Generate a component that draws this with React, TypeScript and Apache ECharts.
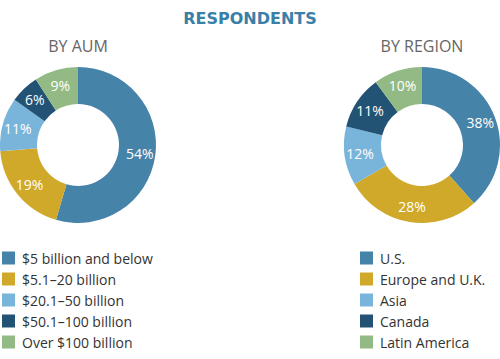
import React, { useEffect, useRef } from "react";
import * as echarts from "echarts";

const aumCategories = ["$5 billion and below", "$5.1–20 billion", "$20.1–50 billion", "$50.1–100 billion", "Over $100 billion"];
const aumValues = [54, 19, 11, 6, 9];
const regionCategories = ["U.S.", "Europe and U.K.", "Asia", "Canada", "Latin America"];
const regionValues = [38, 28, 12, 11, 10];
const colors = ["#4683a9", "#d0a92a", "#79b5db", "#235374", "#93ba84"];

const FONT = "'Open Sans', Lato, sans-serif";

export default function App() {
  const ref = useRef<HTMLDivElement>(null);
  useEffect(() => {
    const chart = echarts.init(ref.current!, null, { renderer: "svg" });
    const pieBase = {
      type: "pie",
      radius: [41, 78],
      startAngle: 90,
      clockwise: true,
      avoidLabelOverlap: false,
      label: {
        show: true,
        position: "inside",
        formatter: "{c}%",
        color: "#ffffff",
        fontSize: 14,
        fontFamily: FONT,
      },
      labelLine: { show: false },
      itemStyle: { borderWidth: 0 },
      emphasis: { disabled: true },
    };
    const legendBase = {
      orient: "vertical",
      top: 251,
      height: 110,
      padding: 0,
      itemWidth: 13,
      itemHeight: 13,
      itemGap: 7,
      icon: "rect",
      textStyle: { fontSize: 14, lineHeight: 13, color: "#333", fontFamily: FONT, padding: [0, 0, 0, 2] },
      selectedMode: false,
    };
    chart.setOption({
      animation: false,
      color: colors,
      graphic: [
        { type: "text", x: 250, y: 10, style: { text: "RESPONDENTS", fill: "#3a7fa8", font: `bold 16px 'DejaVu Sans', sans-serif`, textAlign: "center", textVerticalAlign: "top" } },
        { type: "text", x: 78, y: 38, style: { text: "BY AUM", fill: "#666666", font: `16px ${FONT}`, textAlign: "center", textVerticalAlign: "top" } },
        { type: "text", x: 422, y: 38, style: { text: "BY REGION", fill: "#666666", font: `16px ${FONT}`, textAlign: "center", textVerticalAlign: "top" } },
      ],
      legend: [
        { ...legendBase, left: 2, data: aumCategories },
        { ...legendBase, left: 360, data: regionCategories },
      ],
      series: [
        { ...pieBase, center: [78, 145], data: aumCategories.map((n, i) => ({ name: n, value: aumValues[i] })) },
        { ...pieBase, center: [422, 145], data: regionCategories.map((n, i) => ({ name: n, value: regionValues[i] })) },
      ],
    });
    return () => chart.dispose();
  }, []);
  return <div ref={ref} style={{ width: 500, height: 359, position: "absolute", left: 0, top: 0 }} />;
}
